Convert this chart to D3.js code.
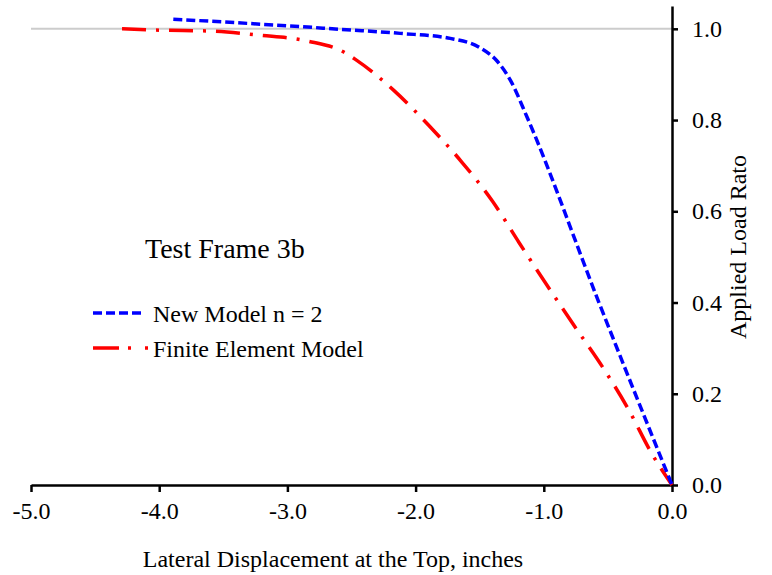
<!DOCTYPE html>
<html lang="en">
<head>
    <meta charset="UTF-8">
    <title>Test Frame 3b</title>
    <script src="https://d3js.org/d3.v7.min.js"></script>
    <style>
        * {
            margin: 0;
            padding: 0;
        }
        body {
            background-color: white;
            font-family: "Liberation Serif", "Times New Roman", serif;
        }
        text {
            fill: black;
        }
        .axis path, .axis line {
            stroke: black;
            stroke-width: 2.5px;
        }
        .axis text {
            font-family: "Liberation Serif", "Times New Roman", serif;
            font-size: 24px;
        }
    </style>
</head>
<body>
<script>
// New Model n = 2
const newModelX = [-3.89, -3.5, -3.2, -2.9, -2.6, -2.12, -1.73, -1.5, -1.37, -1.26, -1.13, -0.57, 0];
const newModelY = [1.021, 1.015, 1.010, 1.005, 0.999, 0.990, 0.979, 0.959, 0.931, 0.887, 0.806, 0.40, 0];

// Finite Element Model
const feX = [-4.29, -3.99, -3.60, -3.22, -2.84, -2.56, -2.47, -2.17, -1.90, -1.64, -1.40, -1.19, -0.98, -0.76, -0.54, -0.34, -0.16, 0];
const feY = [1.0, 0.997, 0.995, 0.986, 0.973, 0.949, 0.933, 0.865, 0.789, 0.708, 0.622, 0.530, 0.440, 0.348, 0.258, 0.166, 0.070, 0];

const xTicks = [-5, -4, -3, -2, -1, 0];
const yTicks = [0, 0.2, 0.4, 0.6, 0.8, 1.0];

const seriesNames = ['New Model n = 2', 'Finite Element Model'];
const chartTitle = 'Test Frame 3b';
const xTitle = 'Lateral Displacement at the Top, inches';
const yTitle = 'Applied Load Rato';

const width = 772;
const height = 575;

const x = d3.scaleLinear().domain([-5, 0]).range([31, 672]);
const y = d3.scaleLinear().domain([0, 1.05]).range([485, 6]);

// plain hyphen for negatives, like the original
const fmt = d => d.toFixed(1);

const svg = d3.select('body').append('svg')
    .attr('width', width)
    .attr('height', height);

// gray reference line at 1.0
svg.append('line')
    .attr('x1', x(-5))
    .attr('x2', x(0))
    .attr('y1', y(1))
    .attr('y2', y(1))
    .attr('stroke', '#cccccc')
    .attr('stroke-width', 2);

const xAxis = svg.append('g')
    .attr('class', 'axis')
    .attr('transform', `translate(0,${y(0)})`)
    .call(d3.axisBottom(x).tickValues(xTicks).tickFormat(fmt).tickSizeInner(7).tickSizeOuter(0).tickPadding(9));

const yAxis = svg.append('g')
    .attr('class', 'axis')
    .attr('transform', `translate(${x(0)},0)`)
    .call(d3.axisRight(y).tickValues(yTicks).tickFormat(fmt).tickSizeInner(6).tickSizeOuter(0).tickPadding(14));

xAxis.selectAll('text').attr('dy', '0.75em');

const line = d3.line()
    .x(d => x(d[0]))
    .y(d => y(d[1]))
    .curve(d3.curveMonotoneX);

const newModel = newModelX.map((v, i) => [v, newModelY[i]]);
const feModel = feX.map((v, i) => [v, feY[i]]);

svg.append('path')
    .datum(feModel)
    .attr('d', line)
    .attr('fill', 'none')
    .attr('stroke', '#ff0000')
    .attr('stroke-width', 3.5)
    .attr('stroke-dasharray', '24,10,3,10');

svg.append('path')
    .datum(newModel)
    .attr('d', line)
    .attr('fill', 'none')
    .attr('stroke', '#0000ff')
    .attr('stroke-width', 3.5)
    .attr('stroke-dasharray', '9,4');

// title and legend
svg.append('text')
    .attr('x', 145)
    .attr('y', 258)
    .style('font-size', '28px')
    .text(chartTitle);

const legend = svg.append('g');
const legendStyles = [
    { color: '#0000ff', dash: '9,4', y: 313, x2: 142 },
    { color: '#ff0000', dash: '26,9,3,14,3,10', y: 348, x2: 149 }
];

legendStyles.forEach((s, i) => {
    legend.append('line')
        .attr('x1', 93)
        .attr('x2', s.x2)
        .attr('y1', s.y)
        .attr('y2', s.y)
        .attr('stroke', s.color)
        .attr('stroke-width', 3.5)
        .attr('stroke-dasharray', s.dash);
    legend.append('text')
        .attr('x', 153)
        .attr('y', s.y + 9)
        .style('font-size', '24px')
        .text(seriesNames[i]);
});

svg.append('text')
    .attr('x', 333)
    .attr('y', 567)
    .attr('text-anchor', 'middle')
    .style('font-size', '24px')
    .text(xTitle);

svg.append('text')
    .attr('transform', 'translate(746,247) rotate(-90)')
    .attr('text-anchor', 'middle')
    .style('font-size', '24px')
    .text(yTitle);
</script>
</body>
</html>
